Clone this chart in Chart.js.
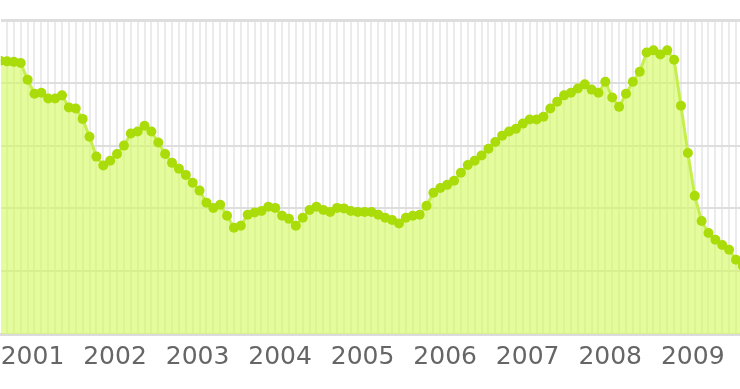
<!DOCTYPE html>
<html><head><meta charset="utf-8">
<script src="https://cdn.jsdelivr.net/npm/chart.js@4/dist/chart.umd.min.js"></script>
<style>html,body{margin:0;padding:0;background:#fff;overflow:hidden;width:740px;height:389px}canvas{display:block;margin-left:-1px}</style>
</head><body>
<canvas id="c" width="745" height="389"></canvas>
<script>
// Monthly series, first value = August 2000
const startYear = 2000;
const startMonth = 8;
const values = [
  5.22, 5.21, 5.20, 5.18, 4.86,
  4.59, 4.61, 4.50, 4.50, 4.56, 4.33, 4.31, 4.11, 3.77, 3.39, 3.22, 3.31,
  3.44, 3.60, 3.83, 3.87, 3.98, 3.87, 3.66, 3.44, 3.27, 3.16, 3.04, 2.89,
  2.74, 2.51, 2.41, 2.47, 2.26, 2.03, 2.07, 2.28, 2.32, 2.35, 2.43, 2.41,
  2.26, 2.20, 2.07, 2.22, 2.37, 2.43, 2.37, 2.33, 2.41, 2.40, 2.35, 2.33,
  2.33, 2.33, 2.28, 2.22, 2.18, 2.11, 2.22, 2.26, 2.28, 2.45, 2.70, 2.79,
  2.85, 2.93, 3.08, 3.23, 3.31, 3.41, 3.54, 3.67, 3.79, 3.87, 3.92, 4.02,
  4.10, 4.10, 4.15, 4.31, 4.44, 4.56, 4.61, 4.69, 4.77, 4.67, 4.61, 4.82,
  4.52, 4.34, 4.59, 4.82, 5.01, 5.38, 5.42, 5.34, 5.42, 5.24, 4.36, 3.46,
  2.64, 2.16, 1.93, 1.80, 1.70, 1.61, 1.42, 1.30
];
const yearLabels = ['2001','2002','2003','2004','2005','2006','2007','2008','2009'];
const yGrid = [0, 1.2, 2.4, 3.6, 4.8, 6];

const months = values.map((_, i) => {
  const m = startMonth - 1 + i;
  return { year: String(startYear + Math.floor(m / 12)), month: (m % 12) + 1 };
});
const points = values.map((v, i) => ({ x: i, y: v }));

new Chart(document.getElementById('c'), {
  type: 'line',
  data: {
    datasets: [{
      data: points,
      fill: 'origin',
      backgroundColor: 'rgba(210,250,90,0.6)',
      borderColor: 'rgba(195,238,70,0.95)',
      borderWidth: 3,
      pointRadius: 5,
      pointHoverRadius: 5,
      pointBackgroundColor: '#aadc0a',
      pointBorderWidth: 0,
      tension: 0
    }]
  },
  options: {
    responsive: false,
    animation: false,
    devicePixelRatio: 1,
    layout: { autoPadding: false, padding: { top: 20, right: 0, bottom: 9, left: 0 } },
    plugins: { legend: { display: false }, tooltip: { enabled: false } },
    scales: {
      x: {
        type: 'linear',
        min: 0.102,
        max: 107.63,
        afterBuildTicks: (s) => { s.ticks = months.map((_, i) => ({ value: i })).filter(t => t.value >= 1 && t.value <= 107); },
        ticks: {
          autoSkip: false,
          maxRotation: 0,
          padding: 8,
          labelOffset: -2,
          color: '#666',
          font: { family: 'DejaVu Sans', size: 25 },
          callback: (v) => {
            const m = months[v];
            return (m && m.month === 1 && yearLabels.includes(m.year)) ? m.year : '';
          }
        },
        grid: { color: '#ebebeb', lineWidth: 2, drawTicks: false },
        border: { display: true, color: '#dcdcdc', width: 3 }
      },
      y: {
        min: 0,
        max: 6,
        afterBuildTicks: (s) => { s.ticks = yGrid.map(v => ({ value: v })); },
        ticks: { display: false },
        grid: {
          color: '#dedede',
          lineWidth: (ctx) => (ctx.tick && ctx.tick.value === 6) ? 3 : 2,
          drawTicks: false
        },
        border: { display: false }
      }
    }
  }
});
</script>
</body></html>
